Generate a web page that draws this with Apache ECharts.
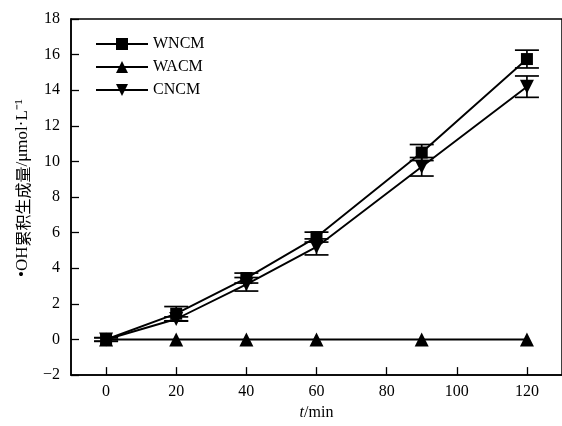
<!DOCTYPE html>
<html><head><meta charset="utf-8">
<script src="https://cdn.jsdelivr.net/npm/echarts@6/dist/echarts.min.js"></script>
<style>html,body{margin:0;padding:0;background:#fff}#c{width:562px;height:426px}</style>
</head><body><div id="c"></div>
<script>
const times = [0, 20, 40, 60, 90, 120];
const wncm = [0, 1.45, 3.45, 5.75, 10.5, 15.75];
const wncmErr = [0.1, 0.4, 0.28, 0.28, 0.45, 0.5];
const wacm = [0, 0, 0, 0, 0, 0];
const cncm = [0, 1.15, 3.1, 5.2, 9.7, 14.2];
const cncmErr = [0.1, 0.12, 0.38, 0.45, 0.52, 0.6];
const xTicks = [0, 20, 40, 60, 80, 100, 120];

const font = '"Liberation Serif", serif';
const cjk = '"Noto Sans CJK SC", sans-serif';
function pts(ys){ return times.map((t,i)=>[t, ys[i]]); }
function errData(ys, es){ return times.map((t,i)=>[t, ys[i]-es[i], ys[i]+es[i]]); }
function errRender(params, api){
  const x = api.value(0);
  const lo = api.coord([x, api.value(1)]);
  const hi = api.coord([x, api.value(2)]);
  const hw = 12;
  const st = {stroke:'#000', lineWidth:1.7};
  return {type:'group', children:[
    {type:'line', shape:{x1:lo[0],y1:lo[1],x2:hi[0],y2:hi[1]}, style:st},
    {type:'line', shape:{x1:lo[0]-hw,y1:lo[1],x2:lo[0]+hw,y2:lo[1]}, style:st},
    {type:'line', shape:{x1:hi[0]-hw,y1:hi[1],x2:hi[0]+hw,y2:hi[1]}, style:st}
  ]};
}
const chart = echarts.init(document.getElementById('c'));
const lineStyle = {color:'#000', width:1.9};
chart.setOption({
  animation:false,
  backgroundColor:'#fff',
  grid:{left:71, right:-2, top:19, bottom:49, show:true, borderColor:'#000', borderWidth:1.5},
  legend:{
    left:90, top:31, orient:'vertical', itemGap:7, itemWidth:52, itemHeight:15,
    textStyle:{fontFamily:font, fontSize:16, color:'#000'},
    data:['WNCM','WACM','CNCM']
  },
  xAxis:{
    type:'value', min:-10, max:130,
    name:'{i|t}/min', nameLocation:'middle', nameGap:28,
    nameTextStyle:{fontFamily:font, fontSize:16, color:'#000', rich:{i:{fontFamily:font, fontStyle:'italic', fontSize:16, color:'#000'}}},
    axisLine:{onZero:false, lineStyle:{color:'#000', width:1.5}},
    axisTick:{inside:true, length:8, customValues:xTicks, lineStyle:{color:'#000', width:1.3}},
    axisLabel:{customValues:xTicks, fontFamily:font, fontSize:16, color:'#000', margin:9},
    splitLine:{show:false}
  },
  yAxis:{
    type:'value', min:-2, max:18, interval:2,
    name:'{a|•OH}{c|累积生成量}{a|/μmol·L⁻¹}', nameLocation:'middle', nameGap:40, nameRotate:90,
    nameTextStyle:{fontFamily:font, fontSize:17, color:'#000', padding:[0,0,0,18],
      rich:{a:{fontFamily:font, fontSize:17, color:'#000'}, c:{fontFamily:cjk, fontSize:16, color:'#000'}}},
    axisLine:{onZero:false, lineStyle:{color:'#000', width:1.5}},
    axisTick:{inside:true, length:8, lineStyle:{color:'#000', width:1.3}},
    axisLabel:{fontFamily:font, fontSize:16, color:'#000', margin:11,
      formatter:v=> v<0 ? '\u2212'+Math.abs(v) : String(v)},
    splitLine:{show:false}
  },
  series:[
    {name:'WNCM', type:'line', data:pts(wncm), symbol:'rect', symbolSize:12,
      itemStyle:{color:'#000'}, lineStyle:lineStyle, z:3},
    {name:'WACM', type:'line', data:pts(wacm), symbol:'triangle', symbolSize:14,
      itemStyle:{color:'#000'}, lineStyle:lineStyle, z:3},
    {name:'CNCM', type:'line', data:pts(cncm), symbol:'triangle', symbolSize:14, symbolRotate:180,
      itemStyle:{color:'#000'}, lineStyle:lineStyle, z:3},
    {type:'custom', data:errData(wncm, wncmErr), renderItem:errRender, z:4, silent:true},
    {type:'custom', data:errData(cncm, cncmErr), renderItem:errRender, z:4, silent:true}
  ]
});
</script></body></html>
